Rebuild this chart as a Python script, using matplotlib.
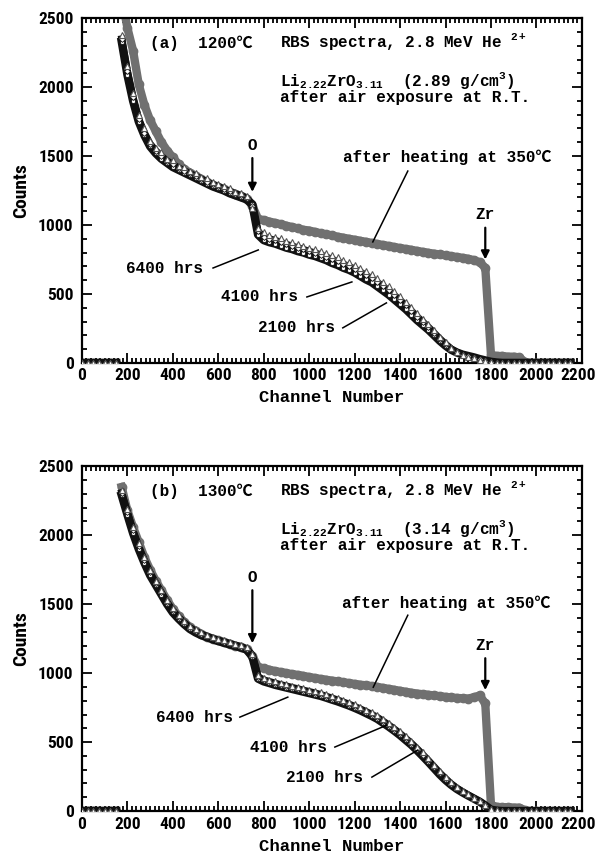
import numpy as np
import matplotlib.pyplot as plt
import matplotlib.transforms as mtransforms
from matplotlib import font_manager

# channel grid of the spectra (every 25 channels)
channel = np.arange(0, 2175, 25)

# ---- panel (a) 1200 C ----
a_heated = [0, 0, 0, 0, 0, 0, 0, 2650,
            2430, 2265, 2020, 1870, 1760, 1680, 1600, 1540,
            1490, 1440, 1405, 1380, 1355, 1330, 1310, 1290,
            1275, 1260, 1240, 1225, 1210, 1190, 1140, 1045,
            1035, 1025, 1015, 1005, 995, 985, 975, 965,
            960, 950, 940, 932, 925, 915, 908, 900,
            893, 885, 878, 870, 862, 855, 848, 840,
            833, 826, 820, 812, 805, 798, 792, 786,
            780, 774, 768, 762, 755, 745, 730, 690,
            60, 50, 50, 45, 45, 40, 5, 0,
            0, 0, 0, 0, 0, 0, 0]
a_6400 = [0, 0, 0, 0, 0, 0, 0, 2380,
          2150, 1960, 1800, 1700, 1610, 1560, 1530, 1480,
          1470, 1430, 1420, 1390, 1380, 1350, 1340, 1310,
          1300, 1280, 1265, 1240, 1235, 1210, 1120, 980,
          950, 930, 915, 905, 885, 875, 860, 850,
          835, 825, 810, 795, 780, 765, 745, 730,
          710, 690, 665, 645, 615, 585, 555, 520,
          485, 445, 405, 360, 320, 280, 235, 190,
          150, 110, 80, 60, 45, 32, 22, 12,
          5, 2, 0, 0, 0, 0, 0, 0,
          0, 0, 0, 0, 0, 0, 0]
a_4100 = [0, 0, 0, 0, 0, 0, 0, 2350,
          2120, 1930, 1770, 1670, 1590, 1540, 1500, 1465,
          1440, 1415, 1395, 1375, 1355, 1335, 1315, 1295,
          1280, 1262, 1245, 1228, 1215, 1198, 1135, 955,
          915, 900, 890, 875, 860, 848, 835, 823,
          810, 798, 785, 768, 752, 736, 717, 700,
          682, 660, 635, 612, 585, 555, 525, 490,
          455, 418, 378, 336, 298, 260, 218, 176,
          138, 102, 78, 60, 48, 36, 25, 15,
          6, 2, 0, 0, 0, 0, 0, 0,
          0, 0, 0, 0, 0, 0, 0]
a_2100 = [0, 0, 0, 0, 0, 0, 0, 2330,
          2090, 1900, 1750, 1650, 1570, 1520, 1480, 1450,
          1420, 1400, 1380, 1360, 1340, 1320, 1300, 1280,
          1265, 1250, 1230, 1215, 1200, 1185, 1150, 930,
          890, 875, 865, 850, 835, 825, 810, 800,
          785, 775, 760, 745, 725, 710, 690, 675,
          655, 630, 605, 585, 555, 525, 495, 460,
          425, 390, 350, 310, 275, 240, 200, 160,
          125, 95, 75, 60, 50, 40, 28, 18,
          8, 3, 0, 0, 0, 0, 0, 0,
          0, 0, 0, 0, 0, 0, 0]

# ---- panel (b) 1300 C ----
b_heated = [0, 0, 0, 0, 0, 0, 0, 2350,
            2180, 2060, 1950, 1840, 1750, 1670, 1600, 1530,
            1465, 1415, 1370, 1335, 1305, 1282, 1265, 1250,
            1237, 1225, 1212, 1200, 1188, 1172, 1125, 1045,
            1035, 1025, 1015, 1008, 1000, 993, 987, 980,
            972, 965, 958, 952, 946, 940, 934, 928,
            922, 916, 912, 906, 900, 893, 886, 879,
            872, 865, 858, 852, 847, 843, 838, 833,
            828, 824, 820, 818, 816, 825, 838, 780,
            45, 30, 28, 28, 25, 25, 5, 0,
            0, 0, 0, 0, 0, 0, 0]
b_6400 = [0, 0, 0, 0, 0, 0, 0, 2330,
          2190, 2060, 1945, 1840, 1750, 1670, 1600, 1530,
          1470, 1420, 1380, 1345, 1318, 1296, 1278, 1262,
          1250, 1237, 1225, 1213, 1202, 1188, 1140, 990,
          965, 952, 940, 930, 920, 910, 900, 890,
          880, 870, 860, 847, 833, 820, 805, 790,
          773, 755, 735, 715, 693, 667, 640, 610,
          578, 543, 507, 467, 425, 381, 336, 290,
          248, 208, 174, 146, 120, 96, 72, 44,
          12, 4, 0, 0, 0, 0, 0, 0,
          0, 0, 0, 0, 0, 0, 0]
b_4100 = [0, 0, 0, 0, 0, 0, 0, 2310,
          2170, 2035, 1920, 1820, 1730, 1655, 1585, 1515,
          1455, 1408, 1368, 1332, 1306, 1285, 1268, 1253,
          1240, 1228, 1216, 1204, 1193, 1178, 1130, 975,
          952, 940, 928, 917, 907, 897, 887, 877,
          867, 857, 846, 833, 820, 806, 791, 776,
          759, 741, 722, 702, 680, 653, 625, 595,
          563, 528, 492, 452, 410, 367, 322, 277,
          236, 198, 166, 140, 116, 93, 70, 42,
          11, 3, 0, 0, 0, 0, 0, 0,
          0, 0, 0, 0, 0, 0, 0]
b_2100 = [0, 0, 0, 0, 0, 0, 0, 2290,
          2150, 2015, 1900, 1800, 1710, 1640, 1570, 1500,
          1440, 1395, 1355, 1320, 1295, 1275, 1260, 1245,
          1232, 1220, 1208, 1196, 1185, 1170, 1120, 960,
          940, 928, 915, 905, 895, 885, 875, 865,
          855, 845, 835, 822, 808, 795, 780, 765,
          748, 730, 710, 690, 668, 640, 612, 582,
          550, 515, 480, 440, 398, 355, 310, 265,
          225, 190, 160, 135, 112, 90, 68, 40,
          10, 3, 0, 0, 0, 0, 0, 0,
          0, 0, 0, 0, 0, 0, 0]

# pick a narrow sans for the numbers if one is installed
installed = {f.name for f in font_manager.fontManager.ttflist}
NUM_FONT, NUM_SIZE = 'Liberation Sans', 11
for name in ['Liberation Sans Narrow', 'Roboto Condensed', 'DejaVu Sans Condensed']:
    if name in installed:
        NUM_FONT, NUM_SIZE = name, 12.5
        break

plt.rcParams['font.family'] = [NUM_FONT, 'DejaVu Sans']
plt.rcParams['font.weight'] = 'bold'
plt.rcParams['mathtext.fontset'] = 'custom'
plt.rcParams['mathtext.rm'] = 'Liberation Mono:bold'
plt.rcParams['mathtext.it'] = 'Liberation Mono:bold'
plt.rcParams['mathtext.bf'] = 'Liberation Mono:bold'

MONO = ['Liberation Mono', 'Noto Sans CJK JP', 'DejaVu Sans']
TXT = dict(family=MONO, fontsize=11.5, fontweight='bold')
GRAY = '#707070'
DARK = '#111111'


def draw_spectra(ax, heated, h6400, h4100, h2100):
    ch = channel
    low = ch <= 150
    main = ch >= 175
    heated, h6400 = np.array(heated), np.array(h6400)
    h4100, h2100 = np.array(h4100), np.array(h2100)

    # after heating at 350 C (gray filled circles)
    ax.plot(ch[main], heated[main], '-', color=GRAY, lw=6, zorder=2)
    ax.plot(ch, heated, 'o', color=GRAY, ms=6, mec=GRAY, zorder=2)
    # annealed samples (dark band)
    for y, w in ((h2100, 6), (h4100, 5)):
        ax.plot(ch[main], y[main], '-', color=DARK, lw=w, zorder=3)
        ax.plot(ch[low], y[low], '-', color=DARK, lw=6, zorder=3)
    ax.plot(ch, h2100, 'o', mfc='white', mec=DARK, ms=3, mew=0.6, zorder=4)
    ax.plot(ch, h4100, 'D', mfc='white', mec=DARK, ms=3, mew=0.6, zorder=4)
    ax.plot(ch, h6400, '^', mfc='white', mec='#555555', ms=4.5, mew=0.8, zorder=5)

    ax.set_xlim(0, 2200)
    ax.set_ylim(0, 2500)
    ax.set_xticks(range(0, 2201, 200))
    ax.set_xticks(range(0, 2201, 20), minor=True)
    ax.set_yticks(range(0, 2501, 500))
    ax.set_yticks(range(0, 2501, 100), minor=True)
    ax.tick_params(which='both', direction='in', top=True, right=True, width=1.3,
                   labelsize=NUM_SIZE)
    ax.tick_params(which='major', length=7)
    ax.tick_params(which='minor', length=3.5)
    ax.tick_params(axis='x', pad=4)
    ax.tick_params(axis='y', pad=6)
    # keep the last channel label inside the picture
    last = ax.get_xticklabels()[-1]
    last.set_transform(last.get_transform() + mtransforms.ScaledTranslation(
        -3 / 72, 0, ax.figure.dpi_scale_trans))
    for s in ax.spines.values():
        s.set_linewidth(1.6)
    ax.set_xlabel('Channel Number', family=MONO, fontsize=12.5, fontweight='bold',
                  labelpad=5)
    ax.set_ylabel('Counts', fontsize=NUM_SIZE + 1.5, fontweight='bold', labelpad=6)


def annotate_panel(ax, title, density, o_xy, zr_xy, heat_txt, heat_line,
                   hrs_txt, hrs_lines):
    ax.text(300, 2320, title, va='center', ha='left', **TXT)
    ax.text(870, 2330, r'RBS spectra, 2.8 MeV He $^{2+}$', va='center', **TXT)
    ax.text(870, 2050, r'Li$_{2.22}$ZrO$_{3.11}$  (' + density + r' g/cm$^3$)',
            va='center', **TXT)
    ax.text(870, 1928, 'after air exposure at R.T.', va='center', **TXT)
    ax.text(heat_txt[0], heat_txt[1], 'after heating at 350℃', va='center', **TXT)
    ax.plot(heat_line[0], heat_line[1], 'k-', lw=1.1, zorder=6)
    arrow = dict(arrowstyle='-|>', color='k', lw=1.6, mutation_scale=12,
                 shrinkA=2, shrinkB=0)
    ax.annotate('O', xy=(750, o_xy[1]), xytext=(750, o_xy[0]), ha='center',
                va='center', arrowprops=arrow, zorder=6, **TXT)
    ax.annotate('Zr', xy=(1775, zr_xy[1]), xytext=(1775, zr_xy[0]), ha='center',
                va='center', arrowprops=arrow, zorder=6, **TXT)
    for (label, tx, ty), (lx, ly) in zip(hrs_txt, hrs_lines):
        ax.text(tx, ty, label, ha='right', va='center', **TXT)
        ax.plot(lx, ly, 'k-', lw=1.1, zorder=6)


fig = plt.figure(figsize=(5.98, 8.64), dpi=100)
ax_a = fig.add_axes([0.137, 0.580, 0.836, 0.399])
ax_b = fig.add_axes([0.137, 0.0613, 0.836, 0.399])

draw_spectra(ax_a, a_heated, a_6400, a_4100, a_2100)
draw_spectra(ax_b, b_heated, b_6400, b_4100, b_2100)

annotate_panel(ax_a, '(a)  1200℃', '2.89', (1580, 1240), (1075, 750),
               (1150, 1493), ([1434, 1280], [1391, 877]),
               [('6400 hrs', 532, 688), ('4100 hrs', 950, 478), ('2100 hrs', 1113, 254)],
               [([577, 776], [688, 819]), ([990, 1188], [478, 587]),
                ([1148, 1340], [254, 435])])
annotate_panel(ax_b, '(b)  1300℃', '3.14', (1696, 1217), (1203, 877),
               (1144, 1507), ([1434, 1282], [1420, 898]),
               [('6400 hrs', 664, 681), ('4100 hrs', 1078, 464), ('2100 hrs', 1236, 246)],
               [([695, 906], [681, 826]), ([1113, 1342], [464, 623]),
                ([1276, 1478], [246, 442])])

fig.savefig('out.png', dpi=100)
